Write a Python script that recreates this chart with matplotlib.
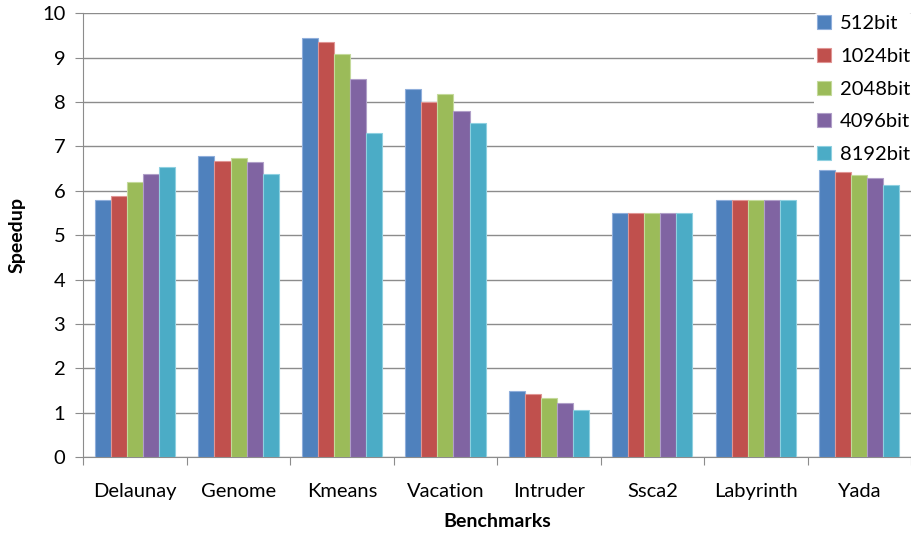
import matplotlib.pyplot as plt
import numpy as np

plt.rcParams['font.family'] = ['Lato', 'DejaVu Sans']

benchmarks = ['Delaunay', 'Genome', 'Kmeans', 'Vacation', 'Intruder', 'Ssca2', 'Labyrinth', 'Yada']
key_sizes = ['512bit', '1024bit', '2048bit', '4096bit', '8192bit']

speedup_512 = [5.79, 6.78, 9.45, 8.30, 1.49, 5.49, 5.79, 6.47]
speedup_1024 = [5.89, 6.68, 9.36, 8.01, 1.43, 5.49, 5.79, 6.42]
speedup_2048 = [6.19, 6.73, 9.08, 8.19, 1.34, 5.49, 5.79, 6.35]
speedup_4096 = [6.39, 6.64, 8.53, 7.79, 1.22, 5.49, 5.79, 6.29]
speedup_8192 = [6.54, 6.37, 7.31, 7.54, 1.05, 5.49, 5.79, 6.13]

series = [speedup_512, speedup_1024, speedup_2048, speedup_4096, speedup_8192]
colors = ['#4F81BD', '#C0504D', '#9BBB59', '#8064A2', '#4BACC6']
edges = ['#8FAEDB', '#E09594', '#C4DA9B', '#B09FC8', '#8ED0E0']

fig = plt.figure(figsize=(9.11, 5.37), dpi=100)
ax = fig.add_axes([0.0915, 0.149, 0.9085, 0.826])

x = np.arange(len(benchmarks))
width = 0.155
for i, (vals, c, ec) in enumerate(zip(series, colors, edges)):
    ax.bar(x + (i - 2) * width, vals, width, color=c, edgecolor=ec,
           linewidth=0.8, label=key_sizes[i], zorder=3)

ax.set_xlim(-0.5, 7.46)
ax.set_ylim(0, 10)
ax.set_yticks(range(0, 11))
ax.yaxis.grid(True, color='#8C8C8C', linewidth=1, zorder=0)
ax.set_axisbelow(True)

# category labels centred, tick marks on the category boundaries
ax.set_xticks(np.arange(-0.5, 8.0, 1.0))
ax.set_xticklabels([])
ax.set_xticks(x, minor=True)
ax.set_xticklabels(benchmarks, minor=True, fontsize=14.5)
ax.tick_params(axis='x', which='minor', length=0, pad=19)
ax.tick_params(axis='x', which='major', length=6, color='#8C8C8C', direction='out')
ax.tick_params(axis='y', length=6, color='#8C8C8C', labelsize=14.5, pad=7)

for side in ['top', 'right']:
    ax.spines[side].set_visible(False)
for side in ['left', 'bottom']:
    ax.spines[side].set_color('#8C8C8C')

ax.set_ylabel('Speedup', fontsize=14, fontweight='bold', labelpad=12)
ax.set_xlabel('Benchmarks', fontsize=14, fontweight='bold', labelpad=9)

leg = ax.legend(loc='upper left', bbox_to_anchor=(0.894, 0.976),
                bbox_transform=fig.transFigure, fontsize=14.5,
                handlelength=0.7, handleheight=0.7, handletextpad=0.45,
                labelspacing=0.77, frameon=True, framealpha=1,
                facecolor='white', edgecolor='none', borderpad=0.12,
                borderaxespad=0)
leg.get_frame().set_width(leg.get_frame().get_width() + 20)
leg.set_zorder(5)

fig.savefig('out.png', dpi=100)
